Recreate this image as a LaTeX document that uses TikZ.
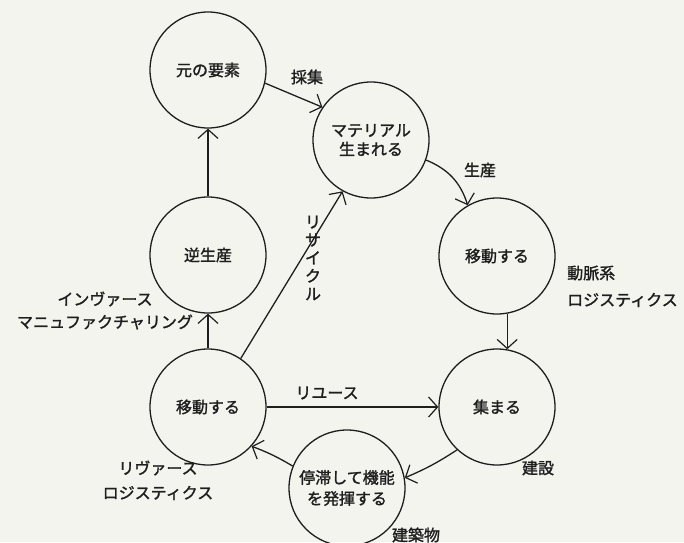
\documentclass[tikz,border=0pt]{standalone}
\usepackage{fontspec}
\setmainfont{Noto Sans CJK JP}[FakeBold=1.5]
\usetikzlibrary{arrows.meta}
\definecolor{paper}{RGB}{244,244,239}
\definecolor{ink}{RGB}{30,30,30}
\begin{document}
\begin{tikzpicture}[x=1pt,y=1pt,
  every node/.style={font=\fontsize{16}{19}\selectfont, text=ink},
  stage/.style={circle, draw=ink, line width=1.3pt, minimum size=116pt, inner sep=0pt, align=center},
  lab/.style={inner sep=0pt, align=center},
  flow/.style={draw=ink, line width=1.3pt, -{Straight Barb[length=9pt,width=20pt,line width=1.2pt]}}]
\useasboundingbox (0,0) rectangle (684,542);
\fill[paper] (0,0) rectangle (684,542);
\clip (0,0) rectangle (684,542);

\node[stage] (n1) at (208,472) {元の要素};
\node[stage] (n2) at (371,402) {マテリアル\\生まれる};
\node[stage] (n3) at (497,286) {移動する};
\node[stage] (n4) at (497,135) {集まる};
\node[stage] (n5) at (208,287) {逆生産};
\node[stage] (n6) at (208,135) {移動する};
\node[stage, font=\fontsize{16}{21}\selectfont] (n7) at (347,54) {停滞して機能\\を発揮する};

\draw[flow] (n1.-13) -- (n2.146);
\draw[flow] (n2.-20) to[bend left=25] (n3.120);
\draw[flow] (n3.-80) -- (n4.80);
\draw[flow] (n4.227) to[bend left=5] (n7.10);
\draw[flow] (n7.158) to[bend right=5] (n6.-42);
\draw[flow] (n6.east) -- (n4.west);
\draw[flow] (n6.north) -- (n5.south);
\draw[flow] (n5.north) -- (n1.south);
\draw[flow] (n6.56) -- (n2.241);

\node[lab] (l1) at (307,465) {採集};
\node[lab] (l2) at (480,372) {生産};
\node[lab, anchor=west] (l3) at (567,269) {動脈系};
\node[lab, anchor=west] (l4) at (567,242) {ロジスティクス};
\node[lab, font=\fontsize{16}{18}\selectfont] (l5) at (313,284) {リ\\サ\\イ\\ク\\ル};
\node[lab] (l6) at (105,243) {インヴァース};
\node[lab] (l7) at (105,220) {マニュファクチャリング};
\node[lab] (l8) at (327,149) {リユース};
\node[lab] (l9) at (158,74) {リヴァース};
\node[lab] (l10) at (158,49) {ロジスティクス};
\node[lab] (l11) at (538,74) {建設};
\node[lab] (l12) at (416,7) {建築物};
\end{tikzpicture}
\end{document}
